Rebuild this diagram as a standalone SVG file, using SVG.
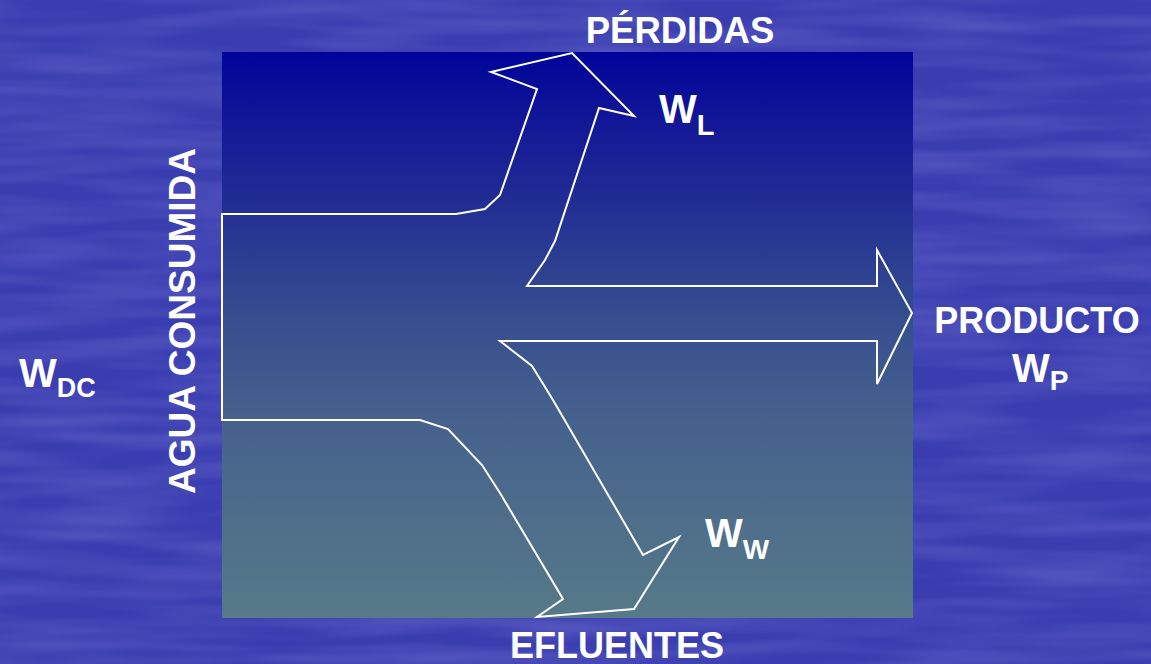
<svg xmlns="http://www.w3.org/2000/svg" width="1151" height="664" viewBox="0 0 1151 664">
  <defs>
    <linearGradient id="boxGrad" x1="0" y1="0" x2="0" y2="1">
      <stop offset="0" stop-color="#00049a"/>
      <stop offset="0.15" stop-color="#151b96"/>
      <stop offset="0.45" stop-color="#344b90"/>
      <stop offset="0.62" stop-color="#445f8d"/>
      <stop offset="1" stop-color="#567a88"/>
    </linearGradient>
    <filter id="water" x="0" y="0" width="100%" height="100%">
      <feTurbulence type="fractalNoise" baseFrequency="0.006 0.06" numOctaves="2" seed="4"/>
      <feColorMatrix type="matrix" values="0 0 0 0 0.6  0 0 0 0 0.6  0 0 0 0 1  0 0 0 0.3 -0.1"/>
    </filter>
  </defs>
  <style>
    .lbl { font-family: "Liberation Sans", Arial, sans-serif; font-weight: bold; fill: #ffffff; }
    .flow { fill: none; stroke: #ffffff; stroke-width: 2; stroke-linejoin: miter; }
  </style>
  <g id="background">
    <rect x="0" y="0" width="1151" height="664" fill="#3a3db0"/>
    <rect x="0" y="0" width="1151" height="664" filter="url(#water)"/>
  </g>
  <g id="process-box">
    <rect x="222" y="52" width="691" height="566" fill="url(#boxGrad)"/>
  </g>
  <g id="connectors">
    <path class="flow" d="M222,214 L456,214 L485,209 L500,195 L537,89 L491,72 L572,53 L634,116 L599,108 L555,241 L545,260 L527,286 L877,286 L877,250 L912,313 L877,384 L877,341 L500,341 L532,366 L553,400 L643,555 L679,537 L634,609 L537,617 L563,599 L500,493 L482,465 L448,429 L420,420 L222,420 Z"/>
  </g>
  <g id="label-perdidas">
    <text class="lbl" x="680" y="43" font-size="36.5" text-anchor="middle">PÉRDIDAS</text>
  </g>
  <g id="label-wl">
    <text class="lbl" x="659" y="123" font-size="40">W<tspan font-size="29" dy="12">L</tspan></text>
  </g>
  <g id="label-producto">
    <text class="lbl" x="1037" y="333" font-size="36" text-anchor="middle">PRODUCTO</text>
    <text class="lbl" x="1012" y="382" font-size="40">W<tspan font-size="28" dy="8">P</tspan></text>
  </g>
  <g id="label-ww">
    <text class="lbl" x="705" y="547" font-size="40">W<tspan font-size="28" dy="12">W</tspan></text>
  </g>
  <g id="label-efluentes">
    <text class="lbl" x="617" y="658" font-size="36" text-anchor="middle">EFLUENTES</text>
  </g>
  <g id="label-wdc">
    <text class="lbl" x="19" y="387" font-size="40">W<tspan font-size="27" dy="10">DC</tspan></text>
  </g>
  <g id="label-agua">
    <text class="lbl" font-size="37" text-anchor="middle" transform="translate(195,321) rotate(-90)">AGUA CONSUMIDA</text>
  </g>
</svg>
